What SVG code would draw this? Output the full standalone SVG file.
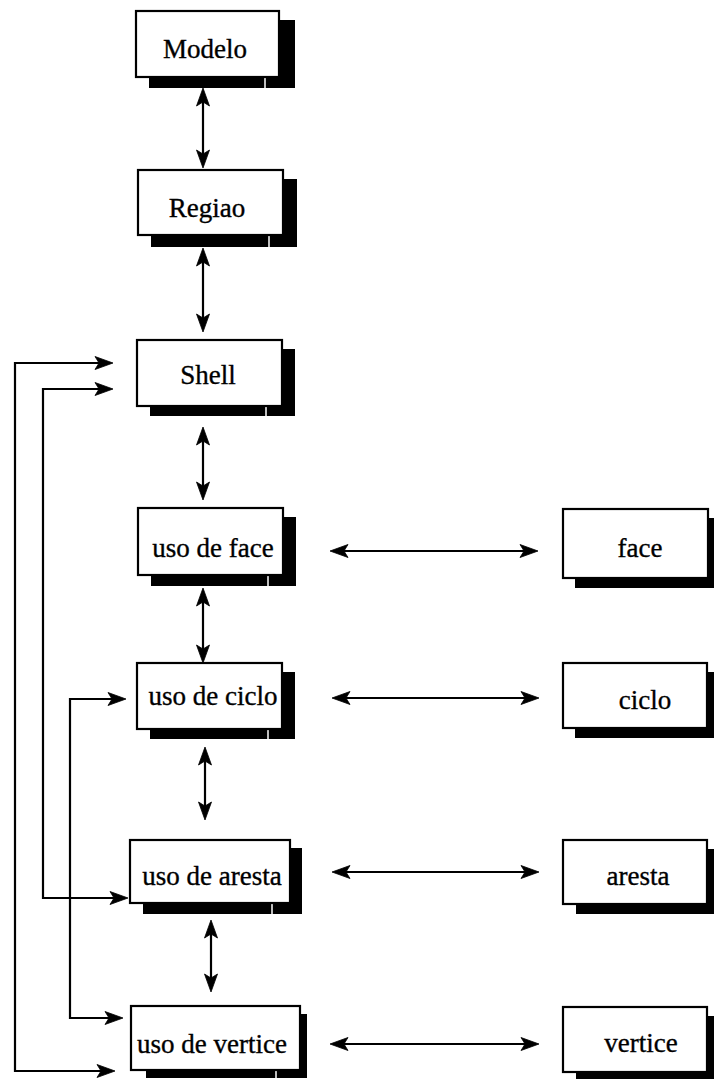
<svg xmlns="http://www.w3.org/2000/svg" width="714" height="1079" viewBox="0 0 714 1079" xmlns:xlink="http://www.w3.org/1999/xlink">
  <style>
    .box { fill: #ffffff; stroke: #000000; stroke-width: 2.2; }
    .shadow { fill: #000000; }
    .gap { stroke: #ffffff; stroke-width: 1.5; }
    .label { font-family: "Liberation Serif", "Times New Roman", serif; font-size: 27px; fill: #000000; stroke: #000000; stroke-width: 0.35; text-anchor: middle; }
    .link { fill: none; stroke: #000000; stroke-width: 2.2; }
    .head { fill: #000000; stroke: #000000; stroke-width: 0.8; stroke-linejoin: miter; }
  </style>
  <defs>
    <!-- arrowhead with its tip at the origin, pointing along +x -->
    <path id="ah" d="M0,0 L-18,-6.5 L-14,0 L-18,6.5 z"/>
  </defs>
  <rect width="714" height="1079" fill="#ffffff"/>

  <!-- connectors -->
  <g id="connectors">
    <!-- vertical chain -->
    <path class="link" d="M203,96 V160"/>
    <path class="link" d="M203,256 V324"/>
    <path class="link" d="M203,435 V492"/>
    <path class="link" d="M203,596 V655"/>
    <path class="link" d="M205,755 V812"/>
    <path class="link" d="M211,928 V984"/>
    <!-- uses to entities -->
    <path class="link" d="M338,551 H530"/>
    <path class="link" d="M340,698 H531"/>
    <path class="link" d="M340,872 H531"/>
    <path class="link" d="M338,1044 H531"/>
    <!-- loops on the left -->
    <path class="link" d="M105,363 H15 V1071 H107"/>
    <path class="link" d="M105,389 H43 V898 H120"/>
    <path class="link" d="M118,699 H70 V1018 H115"/>

    <g class="head">
      <use xlink:href="#ah" transform="translate(203,88) rotate(-90)"/>
      <use xlink:href="#ah" transform="translate(203,168) rotate(90)"/>
      <use xlink:href="#ah" transform="translate(203,248) rotate(-90)"/>
      <use xlink:href="#ah" transform="translate(203,332) rotate(90)"/>
      <use xlink:href="#ah" transform="translate(203,427) rotate(-90)"/>
      <use xlink:href="#ah" transform="translate(203,500) rotate(90)"/>
      <use xlink:href="#ah" transform="translate(203,588) rotate(-90)"/>
      <use xlink:href="#ah" transform="translate(203,663) rotate(90)"/>
      <use xlink:href="#ah" transform="translate(205,747) rotate(-90)"/>
      <use xlink:href="#ah" transform="translate(205,820) rotate(90)"/>
      <use xlink:href="#ah" transform="translate(211,920) rotate(-90)"/>
      <use xlink:href="#ah" transform="translate(211,992) rotate(90)"/>

      <use xlink:href="#ah" transform="translate(330,551) rotate(180)"/>
      <use xlink:href="#ah" transform="translate(538,551)"/>
      <use xlink:href="#ah" transform="translate(332,698) rotate(180)"/>
      <use xlink:href="#ah" transform="translate(539,698)"/>
      <use xlink:href="#ah" transform="translate(332,872) rotate(180)"/>
      <use xlink:href="#ah" transform="translate(539,872)"/>
      <use xlink:href="#ah" transform="translate(330,1044) rotate(180)"/>
      <use xlink:href="#ah" transform="translate(539,1044)"/>

      <use xlink:href="#ah" transform="translate(113,363)"/>
      <use xlink:href="#ah" transform="translate(115,1071)"/>
      <use xlink:href="#ah" transform="translate(113,389)"/>
      <use xlink:href="#ah" transform="translate(128,898)"/>
      <use xlink:href="#ah" transform="translate(126,699)"/>
      <use xlink:href="#ah" transform="translate(123,1018)"/>
    </g>
  </g>

  <!-- nodes -->
  <g id="modelo">
    <rect class="shadow" x="149" y="20" width="146" height="68"/>
    <line class="gap" x1="265" y1="77" x2="265" y2="89"/>
    <rect class="box" x="136" y="11" width="143" height="66"/>
    <text class="label" x="205" y="58">Modelo</text>
  </g>
  <g id="regiao">
    <rect class="shadow" x="151" y="179" width="146" height="68"/>
    <line class="gap" x1="269" y1="235" x2="269" y2="248"/>
    <rect class="box" x="138" y="170" width="145" height="65"/>
    <text class="label" x="207" y="217">Regiao</text>
  </g>
  <g id="shell">
    <rect class="shadow" x="150" y="349" width="145" height="67"/>
    <line class="gap" x1="266" y1="406" x2="266" y2="417"/>
    <rect class="box" x="137" y="340" width="145" height="66"/>
    <text class="label" x="208" y="384">Shell</text>
  </g>
  <g id="uso-face">
    <rect class="shadow" x="151" y="517" width="145" height="69"/>
    <line class="gap" x1="268" y1="575" x2="268" y2="587"/>
    <rect class="box" x="138" y="508" width="145" height="67"/>
    <text class="label" x="213" y="557">uso de face</text>
  </g>
  <g id="uso-ciclo">
    <rect class="shadow" x="150" y="672" width="145" height="67"/>
    <line class="gap" x1="268" y1="729" x2="268" y2="740"/>
    <rect class="box" x="137" y="663" width="145" height="66"/>
    <text class="label" x="213" y="705">uso de ciclo</text>
  </g>
  <g id="uso-aresta">
    <rect class="shadow" x="143" y="848" width="159" height="66"/>
    <line class="gap" x1="272" y1="903" x2="272" y2="915"/>
    <rect class="box" x="130" y="840" width="160" height="63"/>
    <text class="label" x="212" y="885">uso de aresta</text>
  </g>
  <g id="uso-vertice">
    <rect class="shadow" x="146" y="1014" width="161" height="64"/>
    <line class="gap" x1="276" y1="1070" x2="276" y2="1079"/>
    <rect class="box" x="131" y="1006" width="169" height="64"/>
    <text class="label" x="212" y="1053">uso de vertice</text>
  </g>
  <g id="face">
    <rect class="shadow" x="575" y="518" width="148" height="70"/>
    <rect class="box" x="563" y="509" width="145" height="69"/>
    <text class="label" x="640" y="557">face</text>
  </g>
  <g id="ciclo">
    <rect class="shadow" x="575" y="672" width="148" height="66"/>
    <rect class="box" x="563" y="663" width="144" height="65"/>
    <text class="label" x="645" y="709">ciclo</text>
  </g>
  <g id="aresta">
    <rect class="shadow" x="576" y="849" width="148" height="65"/>
    <rect class="box" x="563" y="840" width="144" height="64"/>
    <text class="label" x="638" y="885">aresta</text>
  </g>
  <g id="vertice">
    <rect class="shadow" x="576" y="1016" width="148" height="66"/>
    <rect class="box" x="563" y="1007" width="144" height="65"/>
    <text class="label" x="641" y="1052">vertice</text>
  </g>
</svg>
